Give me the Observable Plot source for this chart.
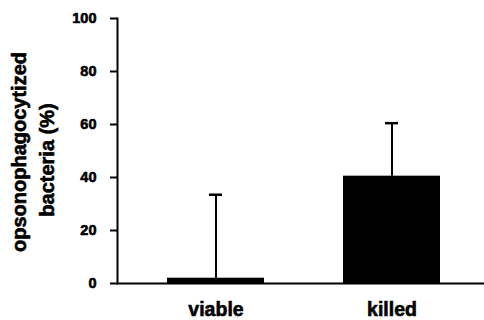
<!DOCTYPE html>
<html>
<head>
<meta charset="utf-8">
<script src="https://cdn.jsdelivr.net/npm/d3@7"></script>
<script src="https://cdn.jsdelivr.net/npm/@observablehq/plot@0.6"></script>
<style>
  html, body { margin: 0; padding: 0; background: #fff; }
  #chart { width: 484px; height: 320px; }
</style>
</head>
<body>
<div id="chart"></div>
<script>
const categories = ["viable", "killed"];
const means = [2, 40.5];
const errors = [31.5, 20];
const yTicks = [0, 20, 40, 60, 80, 100];
const yLabelLines = ["opsonophagocytized", "bacteria (%)"];

const data = categories.map((c, i) => ({cat: c, mean: means[i], top: means[i] + errors[i]}));

const font = "'Liberation Sans', Arial, Helvetica, sans-serif";
const heavy = {fontWeight: "bold", fill: "#000", stroke: "#000", strokeWidth: 0.6};

const chart = Plot.plot({
  width: 484,
  height: 320,
  marginLeft: 117,
  marginRight: 0,
  marginTop: 18,
  marginBottom: 37,
  style: {fontFamily: font, fontSize: "15px", fontWeight: "bold", color: "#000", background: "#fff"},
  x: {domain: categories, paddingInner: 0.45, paddingOuter: 0.2675, align: 0.527, label: null, axis: null},
  y: {domain: [0, 100], label: null},
  marks: [
    Plot.barY(data, {x: "cat", y: "mean", fill: "#000"}),
    Plot.ruleX(data, {x: "cat", y1: "mean", y2: "top", stroke: "#000", strokeWidth: 2}),
    Plot.tickY(data, {x: "cat", y: "top", stroke: "#000", strokeWidth: 2.5, insetLeft: 42, insetRight: 42}),
    Plot.ruleY([0], {stroke: "#000", strokeWidth: 2}),
    Plot.frame({anchor: "left", stroke: "#000", strokeWidth: 2}),
    Plot.axisY(yTicks, {tickSize: 7, text: null, strokeWidth: 2, label: null}),
    Plot.text(yTicks, {y: d => d, text: d => String(d), frameAnchor: "left", textAnchor: "end", dx: -21, fontSize: 14.5, ...heavy}),
    Plot.text(categories, {x: d => d, text: d => d, frameAnchor: "bottom", lineAnchor: "top", dy: 19, fontSize: 19.5, ...heavy}),
    Plot.text([yLabelLines[0]], {frameAnchor: "left", textAnchor: "middle", rotate: -90, dx: -98, dy: 1, fontSize: 20, ...heavy}),
    Plot.text([yLabelLines[1]], {frameAnchor: "left", textAnchor: "middle", rotate: -90, dx: -70, dy: 9, fontSize: 20, ...heavy})
  ]
});
document.getElementById("chart").appendChild(chart);
</script>
</body>
</html>
